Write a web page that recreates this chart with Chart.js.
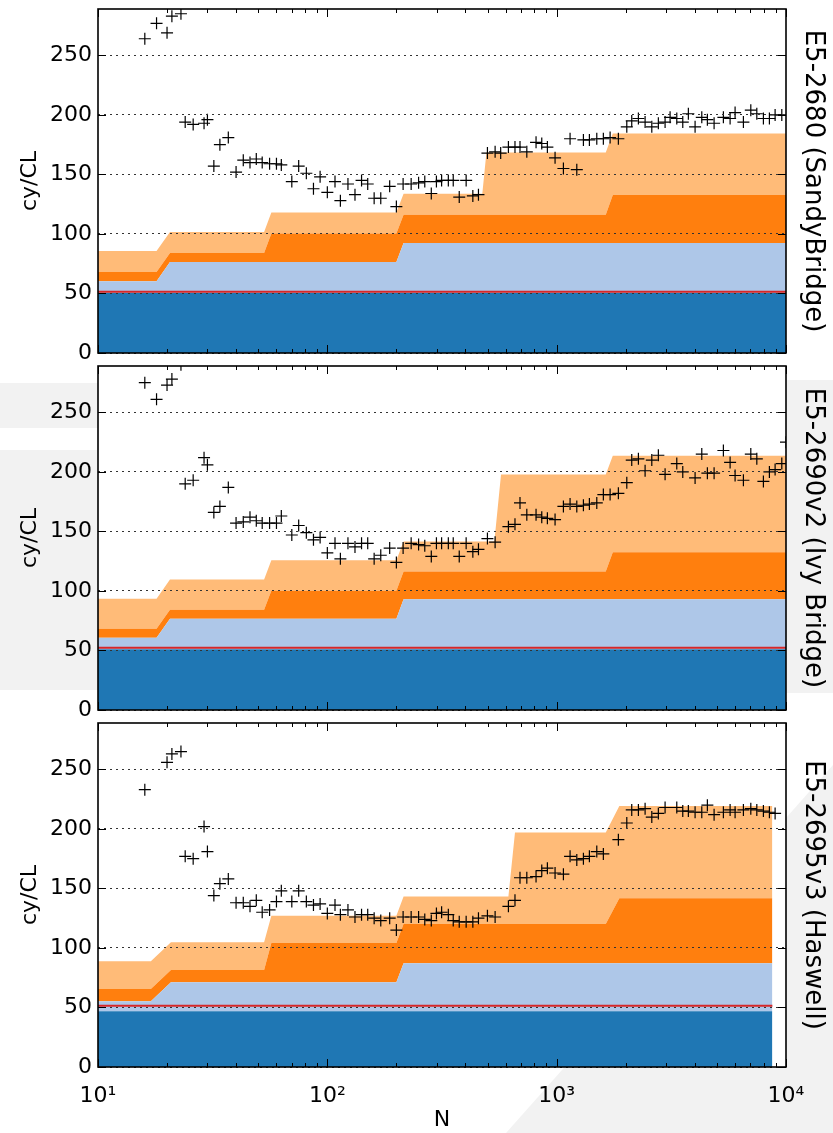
<!DOCTYPE html>
<html lang="en">
<head>
<meta charset="UTF-8">
<title>cy/CL vs N</title>
<script src="https://cdn.jsdelivr.net/npm/chart.js"></script>
<style>
  body { margin: 0; background: #fff; }
  #wrap { position: relative; width: 833px; height: 1133px; overflow: hidden; }
  .bg { position: absolute; background: #f2f2f2; }
  canvas { position: absolute; left: 0; }
</style>
</head>
<body>
<div id="wrap">
  <div class="bg" style="left:0;top:383px;width:98px;height:45px"></div>
  <div class="bg" style="left:0;top:450px;width:98px;height:240px"></div>
  <div class="bg" style="left:786px;top:380px;width:47px;height:313px"></div>
  <div class="bg" style="left:0;top:0;width:833px;height:1133px;clip-path:polygon(506px 1133px,833px 1133px,833px 765px)"></div>
  <canvas id="c1" width="833" height="365" style="top:0"></canvas>
  <canvas id="c2" width="833" height="365" style="top:357px"></canvas>
  <canvas id="c3" width="833" height="419" style="top:714px"></canvas>
</div>
<script>
// sample sizes N of the measured points (shared by the three machines)
const gridN = [16, 18, 20, 21, 23, 24, 26, 29, 30, 32,
  34, 37, 40, 43, 46, 49, 52, 56, 60, 63,
  70, 75, 81, 87, 93, 100, 108, 114, 123, 132,
  141, 150, 160, 171, 187, 200, 214, 232, 250, 266,
  284, 299, 315, 337, 354, 376, 403, 431, 456, 499,
  539, 570, 616, 658, 692, 741, 813, 861, 911, 984,
  1070, 1144, 1224, 1308, 1389, 1496, 1598, 1710, 1858, 2022,
  2125, 2272, 2430, 2599, 2776, 2970, 3123, 3340, 3547, 3752,
  4014, 4293, 4541, 4858, 5333, 5705, 5998, 6520, 7023, 7460,
  7970, 8465, 8964, 9587, 10000];

// measured cy/CL
const cy1 = [264, 277, 269, 283, 285, 194, 192, 193, 196, 157,
  175, 181, 152, 162, 160, 163, 160, 159, 159, 158,
  144, 157, 151, 138, 148, 135, 144, 128, 142, 133,
  145, 142, 130, 130, 140, 123, 142, 142, 143, 144,
  134, 144, 145, 145, 145, 131, 145, 132, 133, 168,
  169, 168, 173, 173, 173, 169, 177, 176, 173, 164,
  155, 180, 154, 179, 179, 180, 180, 181, 180, 190,
  195, 197, 194, 190, 193, 194, 198, 197, 194, 201,
  190, 198, 196, 193, 198, 197, 202, 194, 204, 201,
  197, 197, 200, 200, null];
const cy2 = [275, 261, 273, 278, 290, 190, 193, 212, 206, 166,
  171, 187, 157, 158, 162, 159, 157, 157, 157, 163,
  147, 155, 149, 143, 145, 132, 140, 127, 140, 137,
  140, 140, 127, 130, 136, 124, 136, 140, 139, 138,
  129, 140, 140, 140, 140, 129, 140, 133, 135, 144,
  141, null, 154, 156, 174, 164, 164, 162, 161, 160,
  171, 173, 171, 172, 173, 174, 181, 181, 182, 191,
  210, 211, 201, 210, 214, 198, null, 207, 200, null,
  195, 215, 199, 199, 218, 208, 197, 193, 215, 211,
  192, 200, 202, 207, 225];
const cy3 = [233, null, 256, 263, 265, 177, 175, 202, 181, 144,
  154, 158, 138, 138, 135, 140, 130, 132, 139, 148,
  139, 148, 139, 136, 137, 129, 136, 128, 132, 126,
  128, 128, 125, 123, 125, 115, 126, 126, 126, 124,
  123, 129, 130, 128, 123, 122, 122, 122, 125, 127,
  126, null, 135, 140, 159, 159, 160, 165, 167, 163,
  162, 177, 174, 175, 177, 181, 179, null, 191, 205,
  216, 216, 217, 210, 213, 218, null, 218, 215, 215,
  214, 214, 220, 212, 214, 216, 214, 216, 217, 216,
  215, 214, 213, null, null];

// model layers: N breakpoints and cumulative tops
const stepN1 = [10, 18, 20.6, 53, 57, 200, 215, 474, 494, 1637, 1757, 10000];
const blue1 = [50.4, 50.4, 50.4, 50.4, 50.4, 50.4, 50.4, 50.4, 50.4, 50.4, 50.4, 50.4];
const sky1 = [60.3, 60.3, 76.5, 76.5, 76.5, 76.5, 92.4, 92.4, 92.4, 92.4, 92.4, 92.4];
const orange1 = [68.1, 68.1, 84, 84, 100.3, 100.3, 116.2, 116.2, 116.2, 116.2, 132.8, 132.8];
const peach1 = [85.7, 85.7, 101.7, 101.7, 118, 118, 133.8, 133.8, 168.4, 168.4, 184.4, 184.4];

const stepN2 = [10, 18, 20.6, 53, 57, 200, 215, 535, 572, 1637, 1757, 10000];
const blue2 = [51, 51, 51, 51, 51, 51, 51, 51, 51, 51, 51, 51];
const sky2 = [60.8, 60.8, 76.7, 76.7, 76.7, 76.7, 93, 93, 93, 93, 93, 93];
const orange2 = [68.3, 68.3, 84.3, 84.3, 100.2, 100.2, 116.3, 116.3, 116.3, 116.3, 132.5, 132.5];
const peach2 = [93.5, 93.5, 109.7, 109.7, 125.8, 125.8, 141.5, 141.5, 197.8, 197.8, 213.7, 213.7];

const stepN3 = [10, 17, 20.8, 53, 57, 200, 215, 616, 658, 1637, 1876, 8720];
const blue3 = [46.8, 46.8, 46.8, 46.8, 46.8, 46.8, 46.8, 46.8, 46.8, 46.8, 46.8, 46.8];
const sky3 = [55.2, 55.2, 71.2, 71.2, 71.2, 71.2, 87.1, 87.1, 87.1, 87.1, 87.1, 87.1];
const orange3 = [65.6, 65.6, 81.5, 81.5, 104.1, 104.1, 120.2, 120.2, 120.2, 120.2, 141.8, 141.8];
const peach3 = [88.8, 88.8, 104.9, 104.9, 127, 127, 143.3, 143.3, 197, 197, 219.3, 219.3];

const redLevel = [51.5, 52.4, 51.5];
const titles = ['E5-2680 (SandyBridge)', 'E5-2690v2 (Ivy Bridge)', 'E5-2695v3 (Haswell)'];
const xLabelVals = [10, 100, 1000, 10000];
const sup = ['\u2070', '\u00b9', '\u00b2', '\u00b3', '\u2074'];

Chart.defaults.font.family = 'DejaVu Sans';
Chart.defaults.color = '#000';

const pts = (xs, ys) => xs.map((x, i) => ({x: x, y: ys[i]})).filter(p => p.y !== null);

// white plot area, black frame and inward ticks like the original
const framePlugin = {
    id: 'frame',
    beforeDraw(chart) {
        const {ctx, chartArea: a} = chart;
        ctx.save();
        ctx.fillStyle = '#fff';
        ctx.fillRect(a.left, a.top, a.width, a.height);
        ctx.restore();
    },
    afterDraw(chart) {
        const {ctx, chartArea: a, scales} = chart;
        ctx.save();
        ctx.strokeStyle = '#000';
        ctx.lineWidth = 1;
        ctx.beginPath();
        for (let dec = 10; dec < 10000; dec *= 10) {
            for (let k = 1; k <= 10; k++) {
                const px = Math.round(scales.x.getPixelForValue(k * dec)) + 0.5;
                const len = (k === 1 || k === 10) ? 8 : 4;
                ctx.moveTo(px, a.top); ctx.lineTo(px, a.top + len);
                ctx.moveTo(px, a.bottom); ctx.lineTo(px, a.bottom - len);
            }
        }
        scales.y.ticks.forEach(t => {
            const py = Math.round(scales.y.getPixelForValue(t.value)) + 0.5;
            ctx.moveTo(a.left, py); ctx.lineTo(a.left + 8, py);
            ctx.moveTo(a.right, py); ctx.lineTo(a.right - 8, py);
        });
        ctx.stroke();
        ctx.lineWidth = 1.6;
        ctx.strokeRect(a.left, a.top, a.width, a.height);
        ctx.restore();
    }
};

function area(xs, ys, color, fill) {
    return {data: pts(xs, ys), backgroundColor: color, borderColor: 'rgba(0,0,0,0)',
        borderWidth: 0, pointRadius: 0, fill: fill};
}

function panel(id, idx, stepN, layers, cy, showX) {
    const last = stepN[stepN.length - 1];
    new Chart(document.getElementById(id), {
        type: 'line',
        data: {
            datasets: [
                {data: pts(gridN, cy), showLine: false, pointStyle: 'cross', pointRadius: 6,
                    pointBorderColor: '#000', pointBorderWidth: 1.2, clip: 0},
                {data: pts([stepN[0], last], [redLevel[idx], redLevel[idx]]), borderColor: '#d62728',
                    borderWidth: 2, pointRadius: 0, fill: false},
                area(stepN, layers[0], '#1f77b4', 'origin'),
                area(stepN, layers[1], '#aec7e8', '-1'),
                area(stepN, layers[2], '#ff7f0e', '-1'),
                area(stepN, layers[3], '#ffbb78', '-1')
            ]
        },
        options: {
            responsive: false,
            animation: false,
            devicePixelRatio: 1,
            layout: {autoPadding: false, padding: {top: 9, bottom: showX ? 0 : 12, left: 0, right: 0}},
            plugins: {legend: {display: false}, tooltip: {enabled: false}},
            scales: {
                x: {
                    type: 'logarithmic', min: 10, max: 10000, display: showX,
                    grid: {display: false}, border: {display: false},
                    afterBuildTicks: s => { s.ticks = xLabelVals.map(v => ({value: v})); },
                    ticks: {autoSkip: false, maxRotation: 0, padding: 8, font: {size: 22},
                        callback: v => '10' + sup[Math.round(Math.log10(v))]},
                    title: {display: showX, text: 'N', font: {size: 22}, padding: 0},
                    afterFit: s => { if (showX) { s.height = 66; s.paddingLeft = 0; s.paddingRight = 0; } }
                },
                y: {
                    position: 'left', min: 0, max: 289,
                    afterBuildTicks: s => { s.ticks = s.ticks.filter(t => t.value % 50 === 0); },
                    ticks: {stepSize: 50, padding: 6, font: {size: 22}},
                    grid: {color: '#333', lineWidth: 1, drawTicks: false, z: 1, borderDash: [2, 4]},
                    border: {display: false, dash: [2, 4]},
                    title: {display: true, text: 'cy/CL', font: {size: 22}, padding: {top: 17, bottom: 0}},
                    afterFit: s => { s.width = 98; s.paddingTop = 0; s.paddingBottom = 0; }
                },
                y2: {
                    position: 'right', min: 0, max: 289,
                    grid: {display: false}, border: {display: false},
                    ticks: {display: false},
                    title: {display: true, text: titles[idx], font: {size: 26}, padding: {top: 5, bottom: 0}},
                    afterFit: s => { s.width = 47; s.paddingTop = 0; s.paddingBottom = 0; }
                }
            }
        },
        plugins: [framePlugin]
    });
}

panel('c1', 0, stepN1, [blue1, sky1, orange1, peach1], cy1, false);
panel('c2', 1, stepN2, [blue2, sky2, orange2, peach2], cy2, false);
panel('c3', 2, stepN3, [blue3, sky3, orange3, peach3], cy3, true);
</script>
</body>
</html>
